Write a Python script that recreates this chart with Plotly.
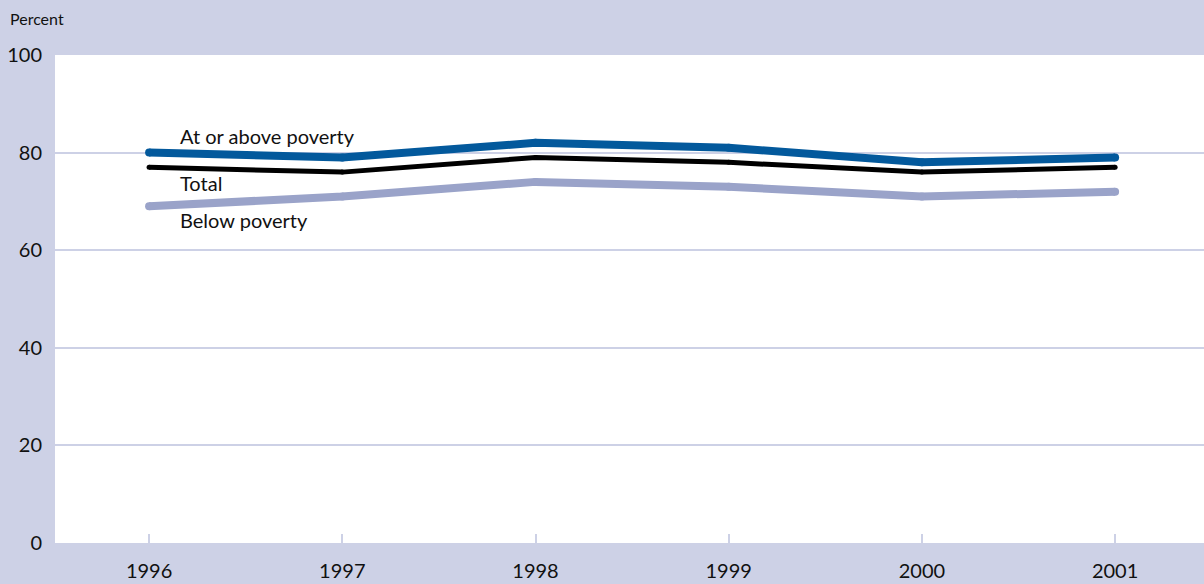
import plotly.graph_objects as go

years = [1996, 1997, 1998, 1999, 2000, 2001]
at_or_above = [80, 79, 82, 81, 78, 79]
total = [77, 76, 79, 78, 76, 77]
below = [69, 71, 74, 73, 71, 72]
y_ticks = [0, 20, 40, 60, 80, 100]

LAV = "#cdd1e6"
FONT = "Lato"

fig = go.Figure()
series = [
    ("Below poverty", below, "#9aa3c9", 8),
    ("Total", total, "#000000", 5),
    ("At or above poverty", at_or_above, "#03599c", 8),
]
for name, vals, col, w in series:
    fig.add_trace(go.Scatter(
        x=years, y=vals, mode="lines+markers", name=name,
        line=dict(color=col, width=w),
        marker=dict(color=col, size=w, line=dict(width=0)),
        hoverinfo="skip", showlegend=False,
    ))

labels = [("At or above poverty", 83.4), ("Total", 73.8), ("Below poverty", 66.2)]
for txt, yy in labels:
    fig.add_annotation(x=1996.166, y=yy, text=txt, showarrow=False,
                       xanchor="left", yanchor="middle", xshift=-3,
                       font=dict(family=FONT, size=20, color="#111111"))

fig.add_annotation(xref="paper", yref="paper", x=-55/1149, y=1 + 37/488,
                   text="Percent", showarrow=False, xanchor="left", yanchor="middle",
                   xshift=8, font=dict(family=FONT, size=16, color="#111111"))

fig.update_layout(
    width=1204, height=584,
    margin=dict(l=55, r=0, t=55, b=41),
    paper_bgcolor=LAV, plot_bgcolor="white",
    font=dict(family=FONT, size=20, color="#111111"),
    xaxis=dict(range=[1995.513, 2001.46], tickvals=years, ticktext=[str(y) for y in years],
               showgrid=False, zeroline=False, showline=False,
               ticks="inside", ticklen=9, tickwidth=2, tickcolor=LAV,
               ticklabelstandoff=14,
               tickfont=dict(size=20), fixedrange=True),
    yaxis=dict(range=[0, 100], tickvals=y_ticks, showgrid=True, gridcolor=LAV, gridwidth=2,
               zeroline=False, showline=False, ticks="", ticklabelstandoff=12,
               tickfont=dict(size=20), fixedrange=True),
)

fig.write_html("out.html", config={"displayModeBar": False},
               post_script="document.body.style.margin='0';document.body.style.overflow='hidden';")
